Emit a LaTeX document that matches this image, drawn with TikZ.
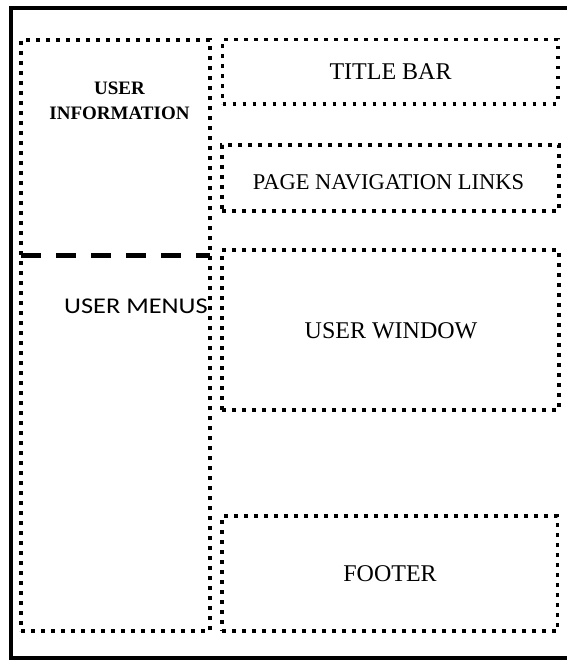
\documentclass[tikz,border=0pt]{standalone}
\usepackage{fontspec}
\setmainfont{Liberation Serif}
\newfontfamily\menufont{Carlito}
\begin{document}
\begin{tikzpicture}[x=1pt, y=-1pt,
  region/.style={draw=black, line width=3.7pt, dash pattern=on 3.7pt off 6.3pt,
    inner sep=0pt, rectangle},
  caption/.style={font=\fontsize{24}{28}\selectfont, inner sep=0pt, text=black},
]
\useasboundingbox (0,0) rectangle (566,660);

% outer page frame, open on the right
\draw[line width=4pt] (575,8) -- (11,8) -- (11,658) -- (575,658);

% left column
\node[region, minimum width=189pt, minimum height=591pt] (side) at (115.5,335.5) {};
% right-hand regions
\node[region, minimum width=335.5pt, minimum height=64.5pt] (title) at (390.25,71.75) {};
\node[region, minimum width=337pt, minimum height=66pt] (nav) at (390.5,178) {};
\node[region, minimum width=337pt, minimum height=160pt] (window) at (390.5,330) {};
\node[region, minimum width=335.5pt, minimum height=115pt] (footer) at (389.75,573.5) {};

% split between user information and user menus
\coordinate (splitL) at (21,255.5);
\coordinate (splitR) at (210,255.5);
\draw[line width=5pt, dash pattern=on 20pt off 15pt] (splitL) -- (splitR);

% labels
\node[inner sep=0pt, align=center, font=\fontsize{19}{25}\selectfont\bfseries]
  (infolabel) at (119.5,101.2) {USER\\INFORMATION};
\node[inner sep=0pt, anchor=base west, font=\menufont\fontsize{22.5}{26}\selectfont]
  (menulabel) at (64,313) {\scalebox{1.17}[1]{USER MENUS}};
\node[caption] (titlelabel) at (390.5,71.5) {TITLE BAR};
\node[caption, font=\fontsize{22.5}{26}\selectfont] (navlabel) at (388.5,182.5) {PAGE NAVIGATION LINKS};
\node[caption] (windowlabel) at (391,330.5) {USER WINDOW};
\node[caption] (footerlabel) at (390,574) {FOOTER};
\end{tikzpicture}
\end{document}
